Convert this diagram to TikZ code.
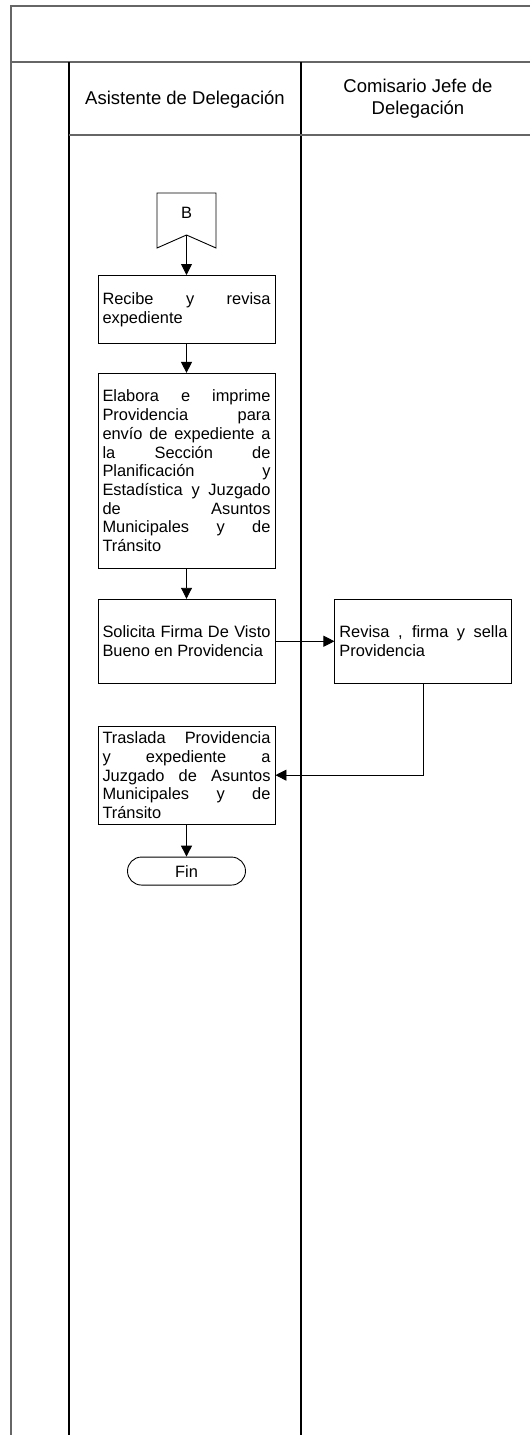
\documentclass[tikz,border=0pt]{standalone}
\usepackage{fontspec}
\setmainfont{Liberation Sans}
\usetikzlibrary{arrows.meta,positioning}
\tikzstyle{proc}=[rectangle,draw,line width=0.9pt,align=justify,text width=168pt,inner sep=4.5pt,font=\fontsize{16.4}{18.7}\selectfont]
\tikzstyle{term}=[rectangle,draw,line width=0.9pt,rounded corners=14pt,minimum width=118pt,minimum height=28pt,inner sep=0pt,font=\fontsize{16.4}{18.7}\selectfont]
\tikzstyle{head}=[align=center,font=\fontsize{18.5}{22}\selectfont]
\tikzstyle{lane}=[line width=1.4pt]
\tikzstyle{arr}=[-{Triangle[length=11pt,width=11pt]},line width=0.9pt]
\hyphenpenalty=10000

\begin{document}
\begin{tikzpicture}[x=1pt,y=-1pt,node distance=29pt]
\useasboundingbox (0,0) rectangle (530,1435);
% frame and lanes
\draw[lane,gray!80!black] (540,6) -- (11,6) -- (11,1440);
\draw[lane,gray!80!black] (11,62) -- (540,62);
\draw[lane] (69,62) -- (69,1440);
\draw[lane] (301,62) -- (301,1440);
\draw[lane,gray!80!black] (69,135) -- (540,135);
\node[head] (H1) at (185,100) {Asistente de Delegación};
\node[head] (H2) at (418,99) {Comisario Jefe de\\Delegación};
% connector B
\node[font=\fontsize{16.4}{18.7}\selectfont] (B) at (186.5,213) {B};
\draw[line width=0.9pt] (B.center) ++(-29.5,-20) -- ++(59,0) -- ++(0,55) -- ++(-29.5,-13) -- ++(-29.5,13) -- cycle;
\coordinate (Bn) at ([yshift=-22pt]B.center);
% steps
\node[proc, minimum height=68pt, below=40pt of Bn] (A) {Recibe y revisa\linebreak expediente};
\node[proc, minimum height=195pt, below=of A] (P) {Elabora e imprime\linebreak Providencia para\linebreak envío de expediente a\linebreak la Sección de\linebreak Planificación y\linebreak Estadística y Juzgado\linebreak de Asuntos\linebreak Municipales y de\linebreak Tránsito};
\node[proc, minimum height=84pt, below=30pt of P] (S) {Solicita Firma De Visto\linebreak Bueno en Providencia};
\node[proc, minimum height=84pt, right=59pt of S] (R) {Revisa , firma y sella\linebreak Providencia};
\node[proc, minimum height=98pt, below=42pt of S] (T) {Traslada Providencia\linebreak y expediente a\linebreak Juzgado de Asuntos\linebreak Municipales y de\linebreak Tránsito};
\node[term, below=32pt of T] (F) {Fin};
\draw[arr] (Bn) -- (A);
\draw[arr] (A) -- (P);
\draw[arr] (P) -- (S);
\draw[arr] (S) -- (R);
\draw[arr] (R.south) |- (T.east);
\draw[arr] (T) -- (F);
\end{tikzpicture}
\end{document}
